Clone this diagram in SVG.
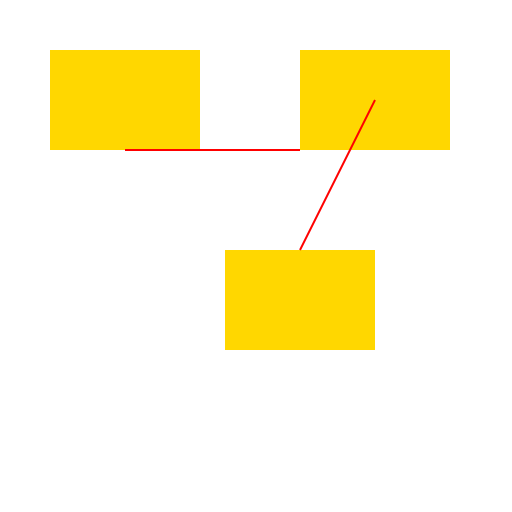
<svg xmlns="http://www.w3.org/2000/svg" width="512" height="512" viewBox="0 0 512 512">
<style>
.node{fill:#FFD700;stroke:none}
.edge{stroke:#FF0000;stroke-width:2;fill:none}
</style>
<rect width="512" height="512" fill="#FFFFFF"/>
<g id="node-a"><rect class="node" x="50" y="50" width="150" height="100"/></g>
<g id="node-b"><rect class="node" x="300" y="50" width="150" height="100"/></g>
<g id="node-c"><rect class="node" x="225" y="250" width="150" height="100"/></g>
<g id="connectors">
<line class="edge" x1="125" y1="150" x2="300" y2="150"/>
<line class="edge" x1="375" y1="100" x2="300" y2="250"/>
</g>
</svg>
